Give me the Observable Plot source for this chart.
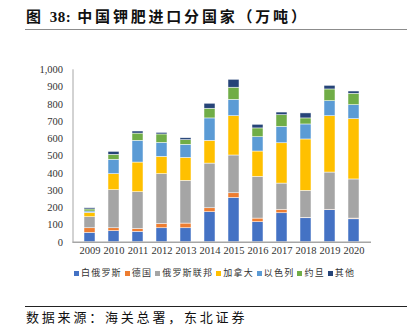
<!DOCTYPE html>
<html>
<head>
<meta charset="utf-8">
<script src="https://cdn.jsdelivr.net/npm/d3@7"></script>
<script src="https://cdn.jsdelivr.net/npm/@observablehq/plot@0.6"></script>
<style>
  html, body { margin: 0; padding: 0; background: #fff; }
  #wrap { position: relative; width: 411px; height: 327px; overflow: hidden; font-family: "Noto Sans CJK SC", sans-serif; }
  #title { position: absolute; left: 26px; top: 5px; font-size: 15px; font-weight: bold; letter-spacing: 2.8px; color: #111; white-space: nowrap; line-height: 22px; }
  #title .num { font-family: "Liberation Serif", serif; letter-spacing: 0.5px; margin-left: 6px; margin-right: 6px; }
  #topline { position: absolute; left: 25px; top: 28.5px; width: 382px; height: 1.5px; background: #8c8c8c; }
  #chart { position: absolute; left: 0; top: 40px; }
  #legend { position: absolute; left: 74px; top: 266px; display: flex; align-items: center; font-size: 9px; letter-spacing: 1.2px; color: #333; white-space: nowrap; line-height: 14px; }
  #legend .item { display: flex; align-items: center; margin-right: 3px; }
  #legend .sw { width: 5px; height: 5px; margin-right: 2px; }
  #botline { position: absolute; left: 25px; top: 306px; width: 382px; height: 1px; background: #222; }
  #source { position: absolute; left: 26px; top: 309px; font-size: 13px; letter-spacing: 2.8px; color: #111; white-space: nowrap; line-height: 16px; }
</style>
</head>
<body>
<div id="wrap">
  <div id="title">图<span class="num">38:</span>中国钾肥进口分国家（万吨）</div>
  <div id="topline"></div>
  <div id="chart"></div>
  <div id="legend"></div>
  <div id="botline"></div>
  <div id="source">数据来源：海关总署，东北证券</div>
</div>
<script>
const years = ["2009","2010","2011","2012","2013","2014","2015","2016","2017","2018","2019","2020"];
const seriesNames = ["白俄罗斯","德国","俄罗斯联邦","加拿大","以色列","约旦","其他"];
const colors = ["#4472C4","#ED7D31","#A5A5A5","#FFC000","#5B9BD5","#70AD47","#264478"];
const belarus = [54, 64, 60, 81, 81, 174, 257, 116, 168, 139, 186, 133];
const germany = [27, 17, 17, 25, 27, 23, 27, 21, 20, 2, 2, 4];
const russia  = [64, 221, 213, 289, 248, 259, 219, 242, 152, 157, 216, 227];
const canada  = [25, 93, 172, 100, 133, 132, 228, 147, 234, 298, 327, 350];
const israel  = [8, 83, 126, 81, 76, 130, 95, 83, 95, 87, 87, 81];
const jordan  = [12, 29, 42, 49, 27, 56, 70, 51, 68, 35, 68, 66];
const others  = [7, 17, 12, 9, 11, 29, 46, 21, 15, 29, 21, 13];
const yTicks = [0,100,200,300,400,500,600,700,800,900,1000];

const seriesValues = [belarus, germany, russia, canada, israel, jordan, others];
const data = [];
seriesNames.forEach((name, i) => {
  years.forEach((yr, j) => data.push({year: yr, country: name, value: seriesValues[i][j]}));
});

const chart = Plot.plot({
  width: 411,
  height: 222,
  marginLeft: 72.5,
  marginRight: 40,
  marginTop: 29.3,
  marginBottom: 20.3,
  style: {fontFamily: "'Liberation Serif', serif", fontSize: "10.5px", color: "#333", background: "transparent"},
  x: {domain: years, paddingInner: 0.56, paddingOuter: 0.28, label: null, tickSize: 0, tickPadding: 4},
  y: {domain: [0, 1000], ticks: yTicks, tickFormat: d3.format(","), label: null, tickSize: 0, tickPadding: 10, line: true},
  color: {domain: seriesNames, range: colors},
  marks: [
    Plot.barY(data, {x: "year", y: "value", fill: "country", stroke: "white", strokeWidth: 0.6, strokeOpacity: 0.8}),
    Plot.ruleY([0], {stroke: "#a6a6a6", strokeWidth: 1.5})
  ]
});
chart.querySelectorAll("[aria-label='y-axis line'], [aria-label='frame']").forEach(e => e.setAttribute("stroke", "#a6a6a6"));
document.getElementById("chart").appendChild(chart);

const legend = document.getElementById("legend");
seriesNames.forEach((name, i) => {
  const item = document.createElement("div");
  item.className = "item";
  const sw = document.createElement("div");
  sw.className = "sw";
  sw.style.background = colors[i];
  const t = document.createElement("span");
  t.textContent = name;
  item.appendChild(sw);
  item.appendChild(t);
  legend.appendChild(item);
});
</script>
</body>
</html>
